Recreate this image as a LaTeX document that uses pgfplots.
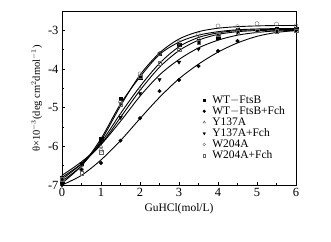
\documentclass[border=0pt]{standalone}
\usepackage{fontspec}
\setmainfont{Liberation Serif}
\usepackage{pgfplots}
\pgfplotsset{compat=1.18}
\begin{document}
\begin{tikzpicture}[x=1pt,y=1pt]
\useasboundingbox (-62,-56) rectangle (269,185);
\begin{axis}[
  scale only axis, width=234pt, height=173pt,
  xmin=0, xmax=6, ymin=-7, ymax=-2.52,
  xtick={0,1,2,3,4,5,6}, ytick={-7,-6,-5,-4,-3},
  minor x tick num=1, minor y tick num=1,
  tick align=inside, xtick pos=bottom, ytick pos=left,
  major tick length=3pt, minor tick length=2pt,
  axis line style={line width=1pt},
  tick style={line width=0.8pt, black},
  ticklabel style={font=\fontsize{12.5}{14}\selectfont},
  /pgf/number format/assume math mode=true,
  yticklabel={\pgfmathprintnumber{\tick}},
  xlabel={GuHCl(mol/L)},
  ylabel={θ×10$^{-3}$(deg cm$^{2}$dmol$^{-1}$)},
  xlabel style={font=\fontsize{11.5}{13}\selectfont, yshift=0pt},
  ylabel style={font=\fontsize{10.5}{12}\selectfont, yshift=-1pt},
  legend style={draw=none, fill=none, at={(0.59,0.535)}, anchor=north west,
    font=\fontsize{11.5}{12}\selectfont, row sep=-2.2pt, inner sep=1pt},
  legend cell align=left,
  legend image code/.code={\path[draw=none,fill=none] (0pt,0pt) -- (9pt,0pt); \draw[#1, mark size=1.4pt] plot coordinates {(3pt,0pt)};},
]
% fitted curves
\addplot[forget plot, smooth, line width=0.9pt] coordinates {(0,-6.9) (0.5,-6.5) (1,-5.85) (1.5,-4.95) (2,-4.15) (2.5,-3.58) (3,-3.22) (3.5,-3.03) (4,-2.94) (4.5,-2.9) (5,-2.88) (5.5,-2.87) (6,-2.87)};
\addplot[forget plot, smooth, line width=0.9pt] coordinates {(0,-6.95) (0.5,-6.5) (1,-5.8) (1.5,-4.9) (2,-4.2) (2.5,-3.62) (3,-3.3) (3.5,-3.12) (4,-3.03) (4.5,-2.98) (5,-2.96) (5.5,-2.95) (6,-2.95)};
\addplot[forget plot, smooth, line width=0.9pt] coordinates {(0,-6.85) (0.5,-6.45) (1,-5.9) (1.5,-5.15) (2,-4.45) (2.5,-3.85) (3,-3.42) (3.5,-3.18) (4,-3.06) (4.5,-3.0) (5,-2.98) (5.5,-2.97) (6,-2.97)};
\addplot[forget plot, smooth, line width=0.9pt] coordinates {(0,-6.8) (0.5,-6.45) (1,-5.95) (1.5,-5.25) (2,-4.55) (2.5,-3.95) (3,-3.52) (3.5,-3.25) (4,-3.1) (4.5,-3.03) (5,-3.0) (5.5,-2.99) (6,-2.98)};
\addplot[forget plot, smooth, line width=0.9pt] coordinates {(0,-6.75) (0.5,-6.4) (1,-5.95) (1.5,-5.35) (2,-4.7) (2.5,-4.15) (3,-3.75) (3.5,-3.45) (4,-3.25) (4.5,-3.12) (5,-3.05) (5.5,-3.01) (6,-3.0)};
\addplot[forget plot, smooth, line width=0.9pt] coordinates {(0,-7.0) (0.5,-6.75) (1,-6.35) (1.5,-5.85) (2,-5.28) (2.5,-4.73) (3,-4.25) (3.5,-3.87) (4,-3.56) (4.5,-3.32) (5,-3.15) (5.5,-3.05) (6,-3.0)};
% data points
\addplot[only marks, mark=square*, mark size=1.8pt, black] coordinates {(0,-6.9) (0.5,-6.45) (1,-5.8) (1.5,-4.77) (2,-4.22) (2.5,-3.6) (3,-3.37) (3.5,-3.27) (4,-3.17) (4.5,-2.99) (5,-3.0) (5.5,-2.96) (6,-2.95)};
\addlegendentry{WT$-$FtsB}
\addplot[only marks, mark=*, mark size=1.8pt, black] coordinates {(0,-7.0) (0.5,-6.6) (1,-6.43) (1.5,-5.85) (2,-5.27) (2.5,-4.57) (3,-4.28) (3.5,-3.92) (4,-3.53) (4.5,-3.27) (5,-3.02) (5.5,-3.0) (6,-3.0)};
\addlegendentry{WT$-$FtsB+Fch}
\addplot[only marks, mark=triangle, mark size=2pt, black!70] coordinates {(0,-6.8) (0.5,-6.5) (1,-6.0) (1.5,-5.2) (2,-4.5) (2.5,-3.6) (3,-3.4) (3.5,-3.2) (4,-3.1) (4.5,-3.0) (5,-3.0) (5.5,-3.0) (6,-2.95)};
\addlegendentry{Y137A}
\addplot[only marks, mark=triangle*, mark options={rotate=180}, mark size=2pt, black] coordinates {(0,-6.8) (0.5,-6.45) (1,-5.9) (1.5,-5.25) (2,-4.63) (2.5,-4.27) (3,-3.82) (3.5,-3.48) (4,-3.2) (4.5,-3.05) (5,-3.0) (5.5,-3.0) (6,-3.0)};
\addlegendentry{Y137A+Fch}
\addplot[only marks, mark=o, mark size=2pt, black!60] coordinates {(0,-6.85) (0.5,-6.6) (1,-6.1) (1.5,-4.85) (2,-4.12) (2.5,-3.6) (3,-3.3) (3.5,-3.1) (4,-2.88) (4.5,-2.9) (5,-2.82) (5.5,-2.83) (6,-2.88)};
\addlegendentry{W204A}
\addplot[only marks, mark=square, mark size=1.8pt, black!60] coordinates {(0,-6.85) (0.5,-6.7) (1,-6.15) (1.5,-4.9) (2,-4.2) (2.5,-3.85) (3,-3.5) (3.5,-3.3) (4,-3.1) (4.5,-3.05) (5,-3.0) (5.5,-3.02) (6,-3.0)};
\addlegendentry{W204A+Fch}
\end{axis}
\end{tikzpicture}
\end{document}
